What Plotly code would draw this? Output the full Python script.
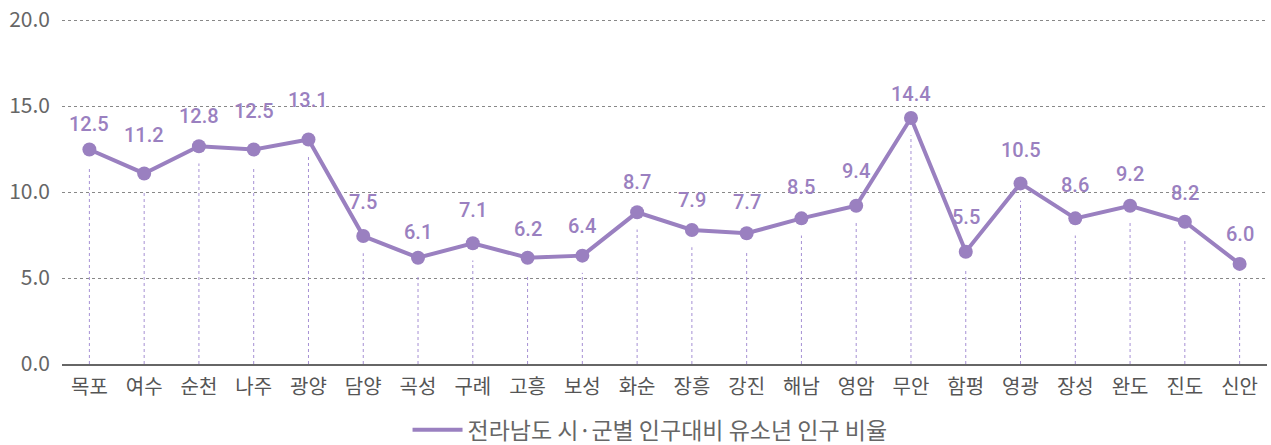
import plotly.graph_objects as go

regions = ["목포", "여수", "순천", "나주", "광양", "담양", "곡성", "구례", "고흥", "보성", "화순",
           "장흥", "강진", "해남", "영암", "무안", "함평", "영광", "장성", "완도", "진도", "신안"]
# point positions
values = [12.47, 11.08, 12.66, 12.47, 13.05, 7.44, 6.18, 7.02, 6.18, 6.30, 8.82,
          7.79, 7.60, 8.47, 9.20, 14.30, 6.53, 10.50, 8.47, 9.20, 8.27, 5.82]
# printed data labels
labels = [12.5, 11.2, 12.8, 12.5, 13.1, 7.5, 6.1, 7.1, 6.2, 6.4, 8.7,
          7.9, 7.7, 8.5, 9.4, 14.4, 5.5, 10.5, 8.6, 9.2, 8.2, 6.0]
y_ticks = [0, 5, 10, 15, 20]
series_name = "전라남도 시·군별 인구대비 유소년 인구 비율"

# style: how far (px) each printed label sits above its marker
label_lift = [26, 38, 30, 39, 40, 34, 26, 33, 29, 30, 30,
              30, 31, 31, 35, 24, 35, 33, 33, 32, 29, 30]

purple = "#9a80c0"
kr_font = "Noto Sans CJK KR, Noto Sans, sans-serif"
drop_gap = 1.0  # gap under each marker, in data units

fig = go.Figure()

# drop lines from just below each marker to the axis
dx, dy = [], []
for r, v in zip(regions, values):
    dx += [r, r, None]
    dy += [0, v - drop_gap, None]
fig.add_trace(go.Scatter(x=dx, y=dy, mode="lines", showlegend=False, hoverinfo="skip",
                         line=dict(color="#a690d4", width=1, dash="3px,3px")))

fig.add_trace(go.Scatter(x=regions, y=values, mode="lines+markers", name=series_name,
                         showlegend=False,
                         line=dict(color=purple, width=4),
                         marker=dict(color=purple, size=14)))
# legend entry (line only)
fig.add_trace(go.Scatter(x=[None], y=[None], mode="lines", name=series_name,
                         line=dict(color=purple, width=4)))

for r, v, lab, lift in zip(regions, values, labels, label_lift):
    fig.add_annotation(x=r, y=v, text=f"{lab:.1f}", showarrow=False, yshift=lift,
                       font=dict(family="Roboto, sans-serif", weight=500,
                                 size=20, color=purple))

fig.update_layout(
    width=1271, height=445,
    margin=dict(l=62, r=4, t=19, b=81, autoexpand=False),
    plot_bgcolor="white", paper_bgcolor="white",
    font=dict(family=kr_font, color="#666666"),
    legend=dict(orientation="h", x=0.488, xanchor="center", y=-0.191, yanchor="middle",
                itemwidth=50,
                font=dict(size=23, color="#666666", family=kr_font)),
)
fig.update_xaxes(range=[-0.5, 21.5], showgrid=False, tickfont=dict(size=20, color="#555555"),
                 showline=True, linecolor="#666666", linewidth=1.5, ticks="",
                 ticklabelstandoff=4)
fig.update_yaxes(range=[0, 20.06], tickvals=y_ticks, ticktext=[f"{t:.1f}" for t in y_ticks],
                 tickfont=dict(size=21, color="#666666"), showgrid=True,
                 gridcolor="#888888", griddash="3px,3px", gridwidth=1, zeroline=False, ticks="",
                 ticklabelstandoff=11, ticklabeloverflow="allow")

# remove the browser's default 8px body margin so the figure fills the window
fig.write_html("out.html", config={"displayModeBar": False},
               post_script="document.body.style.margin='0';")
